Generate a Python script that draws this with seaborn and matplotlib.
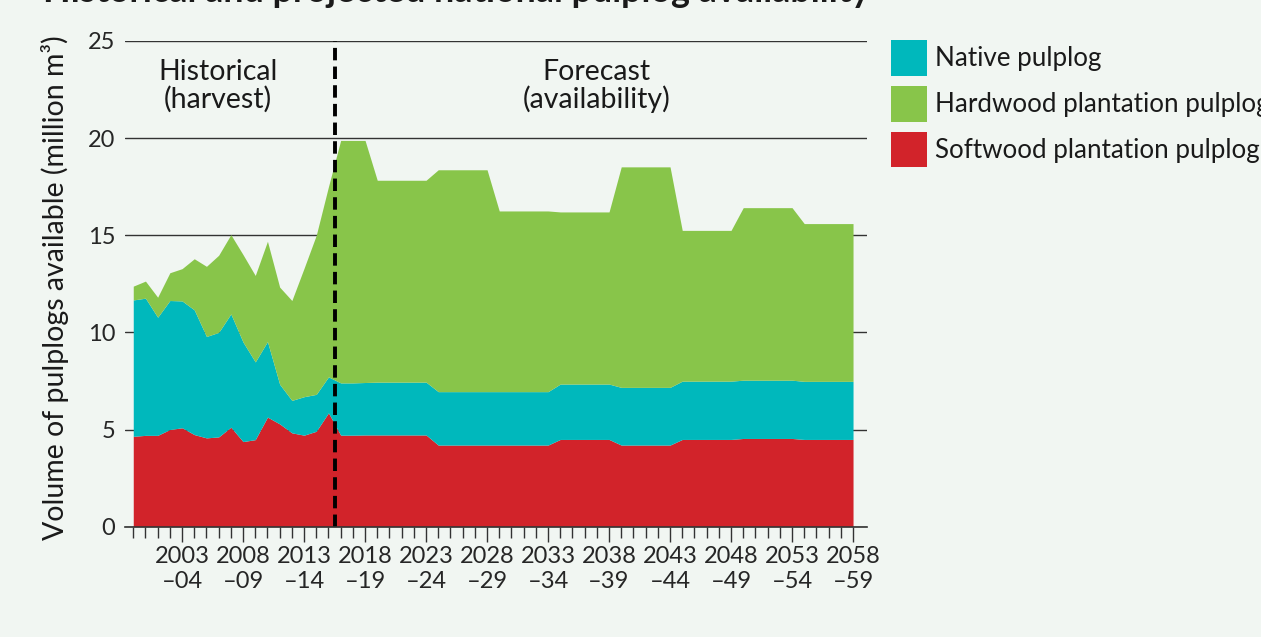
import matplotlib
matplotlib.use("Agg")
import matplotlib.pyplot as plt
from matplotlib.patches import Patch
import seaborn as sns
import numpy as np

# financial years 1999-00 ... 2058-59 (x = first year)
years = list(range(1999, 2059))

softwood = [4.65, 4.70, 4.70, 5.00, 5.09, 4.74, 4.57, 4.62, 5.12, 4.38,
            4.48, 5.64, 5.29, 4.83, 4.71, 4.91, 5.86, 4.71, 4.71, 4.72,
            4.72, 4.72, 4.72, 4.72, 4.72, 4.20, 4.20, 4.20, 4.20, 4.20,
            4.20, 4.20, 4.20, 4.20, 4.20, 4.49, 4.49, 4.49, 4.49, 4.49,
            4.20, 4.20, 4.20, 4.20, 4.20, 4.49, 4.49, 4.49, 4.49, 4.49,
            4.54, 4.54, 4.54, 4.54, 4.54, 4.49, 4.49, 4.49, 4.49, 4.49]

native = [7.02, 7.06, 6.08, 6.64, 6.53, 6.42, 5.22, 5.38, 5.83, 5.12,
          4.00, 3.89, 2.04, 1.67, 1.98, 1.90, 1.85, 2.69, 2.69, 2.70,
          2.72, 2.72, 2.72, 2.72, 2.72, 2.75, 2.75, 2.75, 2.75, 2.75,
          2.75, 2.75, 2.75, 2.75, 2.75, 2.85, 2.85, 2.85, 2.85, 2.85,
          2.97, 2.97, 2.97, 2.97, 2.97, 3.00, 3.00, 3.00, 3.00, 3.00,
          3.00, 3.00, 3.00, 3.00, 3.00, 2.99, 2.99, 2.99, 2.99, 2.99]

hardwood = [0.71, 0.88, 1.03, 1.43, 1.66, 2.63, 3.61, 3.97, 4.08, 4.50,
            4.45, 5.16, 5.00, 5.14, 6.61, 8.19, 9.79, 12.48, 12.48, 12.46,
            10.39, 10.39, 10.39, 10.39, 10.39, 11.42, 11.42, 11.42, 11.42, 11.42,
            9.30, 9.30, 9.30, 9.30, 9.30, 8.86, 8.86, 8.86, 8.86, 8.86,
            11.35, 11.35, 11.35, 11.35, 11.35, 7.76, 7.76, 7.76, 7.76, 7.76,
            8.88, 8.88, 8.88, 8.88, 8.88, 8.12, 8.12, 8.12, 8.12, 8.12]

labelled_years = list(range(2003, 2059, 5))
tick_labels = [f"{y}\n\u2013{(y + 1) % 100:02d}" for y in labelled_years]

series_names = ["Native pulplog", "Hardwood plantation pulplog", "Softwood plantation pulplog"]
colors = {"Native pulplog": "#00B8BC",
          "Hardwood plantation pulplog": "#88C54A",
          "Softwood plantation pulplog": "#D2232A"}

bg = "#F1F6F2"
sns.set_style("white", {"axes.facecolor": bg, "figure.facecolor": bg})
plt.rcParams["font.family"] = ["Lato", "DejaVu Sans"]
plt.rcParams["text.color"] = "#1a1a1a"

fig = plt.figure(figsize=(12.61, 6.37), dpi=100)
ax = fig.add_axes([0.0991, 0.1732, 0.5884, 0.7625])

ax.stackplot(years, softwood, native, hardwood,
             colors=[colors["Softwood plantation pulplog"], colors["Native pulplog"],
                     colors["Hardwood plantation pulplog"]],
             linewidth=0, zorder=2)

# split between harvest history and forecast
ax.axvline(2015.5, color="black", lw=2.8, dashes=(3.2, 1.6), zorder=4)

ax.set_xlim(1998.32, 2059.14)
ax.set_ylim(0, 25)
ax.set_yticks([0, 5, 10, 15, 20, 25])
ax.yaxis.grid(True, color="#333333", lw=1.0, zorder=0)
ax.set_axisbelow(True)

ax.set_xticks(labelled_years)
ax.set_xticklabels(tick_labels)
ax.set_xticks(years, minor=True)
ax.tick_params(axis="x", which="both", bottom=True)
ax.tick_params(axis="x", which="major", direction="out", length=11, width=1,
               color="#333333", labelsize=17, pad=3)
ax.tick_params(axis="x", which="minor", direction="out", length=8, width=1,
               color="#333333")
ax.tick_params(axis="y", length=0, labelsize=17, pad=7)
for t in ax.get_xticklabels():
    t.set_linespacing(1.2)

sns.despine(ax=ax, left=True, top=True, right=True)
ax.spines["bottom"].set_color("#333333")
ax.spines["bottom"].set_linewidth(1.2)
ax.spines["bottom"].set_zorder(5)

ax.text(2005.94, 22.68, "Historical\n(harvest)", ha="center", va="center",
        fontsize=20.5, linespacing=1.05)
ax.text(2037.0, 22.68, "Forecast\n(availability)", ha="center", va="center",
        fontsize=20.5, linespacing=1.05)

fig.text(55 / 1261, 1 - 288 / 637, "Volume of pulplogs available (million m\u00b3)",
         rotation=90, ha="center", va="center", fontsize=20.5)

fig.text(43 / 1261, 1 - 2 / 637, "Historical and projected national pulplog availability",
         fontsize=25.8, fontweight="bold", va="baseline", ha="left")

handles = [Patch(facecolor=colors[n], edgecolor="none", label=n) for n in series_names]
fig.legend(handles=handles, loc="upper left", bbox_to_anchor=(891 / 1261, 1 - 40 / 637),
           frameon=False, fontsize=18.7, handlelength=1.385, handleheight=1.75,
           handletextpad=0.3, labelspacing=0.38, borderpad=0, borderaxespad=0)

fig.savefig("out.png", dpi=100, facecolor=bg)
